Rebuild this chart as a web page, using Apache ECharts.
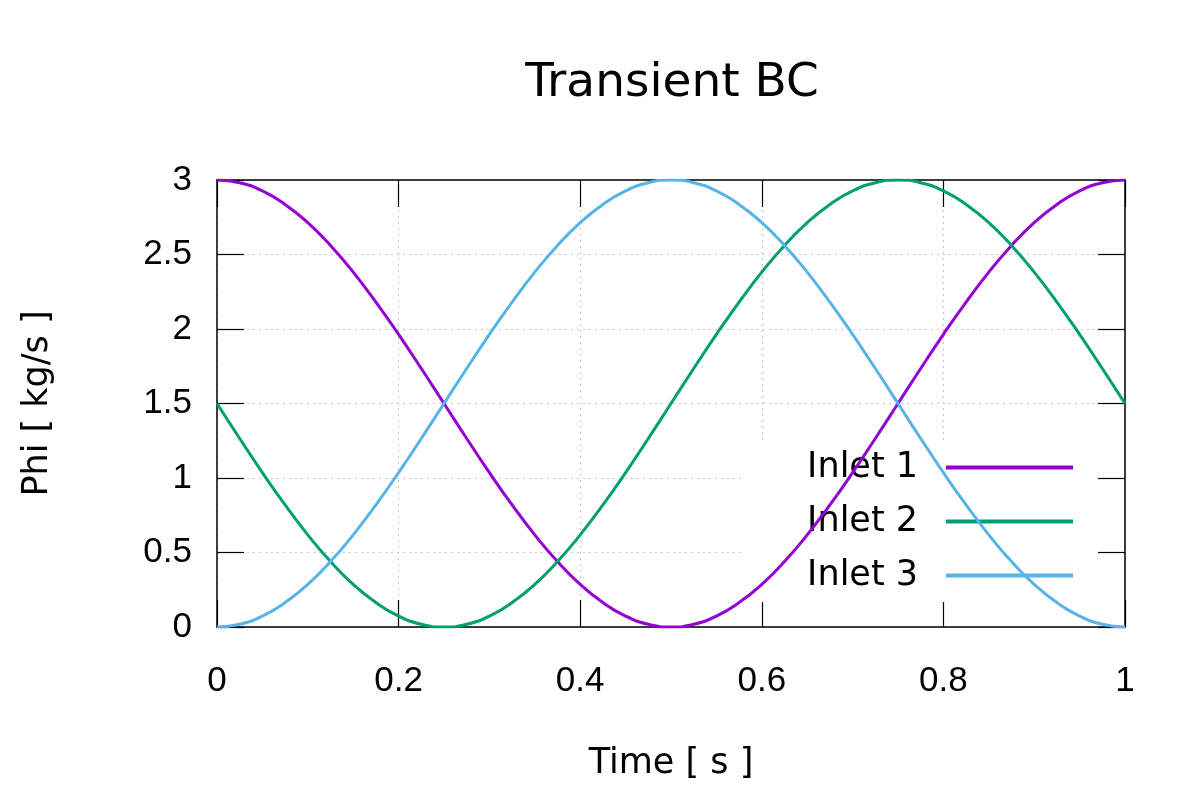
<!DOCTYPE html>
<html>
<head>
<meta charset="utf-8">
<script src="https://cdn.jsdelivr.net/npm/echarts@6/dist/echarts.min.js"></script>
<style>html,body{margin:0;padding:0;background:#fff;}#c{width:1200px;height:800px;}</style>
</head>
<body>
<div id="c"></div>
<script>
const titleText = 'Transient BC';
const xName = 'Time [ s ]';
const yName = 'Phi [ kg/s ]';
const seriesNames = ['Inlet 1', 'Inlet 2', 'Inlet 3'];
const seriesColors = ['#9400d3', '#009e73', '#56b4e9'];
const time = [0, 0.025, 0.05, 0.075, 0.1, 0.125, 0.15, 0.175, 0.2, 0.225, 0.25, 0.275, 0.3, 0.325, 0.35, 0.375, 0.4, 0.425, 0.45, 0.475, 0.5, 0.525, 0.55, 0.575, 0.6, 0.625, 0.65, 0.675, 0.7, 0.725, 0.75, 0.775, 0.8, 0.825, 0.85, 0.875, 0.9, 0.925, 0.95, 0.975, 1.0];
const inlet1 = [3.0, 2.982, 2.927, 2.836, 2.714, 2.561, 2.382, 2.181, 1.964, 1.735, 1.5, 1.265, 1.036, 0.819, 0.618, 0.439, 0.286, 0.164, 0.073, 0.018, 0.0, 0.018, 0.073, 0.164, 0.286, 0.439, 0.618, 0.819, 1.036, 1.265, 1.5, 1.735, 1.964, 2.181, 2.382, 2.561, 2.714, 2.836, 2.927, 2.982, 3.0];
const inlet2 = [1.5, 1.265, 1.036, 0.819, 0.618, 0.439, 0.286, 0.164, 0.073, 0.018, 0.0, 0.018, 0.073, 0.164, 0.286, 0.439, 0.618, 0.819, 1.036, 1.265, 1.5, 1.735, 1.964, 2.181, 2.382, 2.561, 2.714, 2.836, 2.927, 2.982, 3.0, 2.982, 2.927, 2.836, 2.714, 2.561, 2.382, 2.181, 1.964, 1.735, 1.5];
const inlet3 = [0.0, 0.018, 0.073, 0.164, 0.286, 0.439, 0.618, 0.819, 1.036, 1.265, 1.5, 1.735, 1.964, 2.181, 2.382, 2.561, 2.714, 2.836, 2.927, 2.982, 3.0, 2.982, 2.927, 2.836, 2.714, 2.561, 2.382, 2.181, 1.964, 1.735, 1.5, 1.265, 1.036, 0.819, 0.618, 0.439, 0.286, 0.164, 0.073, 0.018, 0.0];
const allValues = [inlet1, inlet2, inlet3];

const chart = echarts.init(document.getElementById('c'), null, {renderer: 'canvas'});
const tickFont = {fontFamily: 'Liberation Sans', fontSize: 35, color: '#000'};
const gridLine = {show: true, lineStyle: {color: '#c8c8c8', width: 1, type: [2, 4]}};
const frameLine = {show: true, onZero: false, lineStyle: {color: '#000', width: 1.5}};
const ticks = {show: true, inside: true, length: 27, lineStyle: {color: '#000', width: 1.2}};

chart.setOption({
  animation: false,
  backgroundColor: '#fff',
  title: {
    text: titleText,
    left: 667, top: 55,
    textAlign: 'center',
    textStyle: {fontFamily: 'DejaVu Sans', fontSize: 47, fontWeight: 'normal', color: '#000'}
  },
  grid: {left: 217, right: 75, top: 180, bottom: 173, containLabel: false},
  legend: {
    data: seriesNames.map(n => ({name: n})),
    orient: 'vertical',
    right: 103, top: 441,
    align: 'right',
    padding: [9, 24, 9, 63],
    backgroundColor: '#fff',
    z: 1,
    itemWidth: 127, itemHeight: 4,
    itemGap: 19,
    icon: 'rect',
    textStyle: {fontFamily: 'DejaVu Sans', fontSize: 35, color: '#000', lineHeight: 35, padding: [0, 23, 0, 0]}
  },
  xAxis: [{
    type: 'value', min: 0, max: 1, interval: 0.2,
    name: xName, nameLocation: 'middle', nameGap: 119,
    nameTextStyle: {fontFamily: 'DejaVu Sans', fontSize: 35, color: '#000'},
    axisLine: frameLine, axisTick: ticks,
    axisLabel: Object.assign({margin: 37}, tickFont),
    splitLine: gridLine
  }, {
    type: 'value', min: 0, max: 1, interval: 0.2, position: 'top',
    axisLine: frameLine, axisTick: ticks, axisLabel: {show: false}, splitLine: {show: false}
  }],
  yAxis: [{
    type: 'value', min: 0, max: 3, interval: 0.5,
    name: yName, nameLocation: 'middle', nameGap: 162, nameRotate: 90,
    nameTextStyle: {fontFamily: 'DejaVu Sans', fontSize: 35, color: '#000'},
    axisLine: frameLine, axisTick: ticks,
    axisLabel: Object.assign({margin: 25}, tickFont),
    splitLine: gridLine
  }, {
    type: 'value', min: 0, max: 3, interval: 0.5, position: 'right',
    axisLine: frameLine, axisTick: ticks, axisLabel: {show: false}, splitLine: {show: false}
  }],
  series: seriesNames.map((n, i) => ({
    name: n,
    type: 'line',
    xAxisIndex: 0, yAxisIndex: 0,
    data: time.map((t, k) => [t, allValues[i][k]]),
    smooth: true,
    showSymbol: false,
    z: 3,
    lineStyle: {color: seriesColors[i], width: 3},
    itemStyle: {color: seriesColors[i]}
  }))
});
</script>
</body>
</html>
